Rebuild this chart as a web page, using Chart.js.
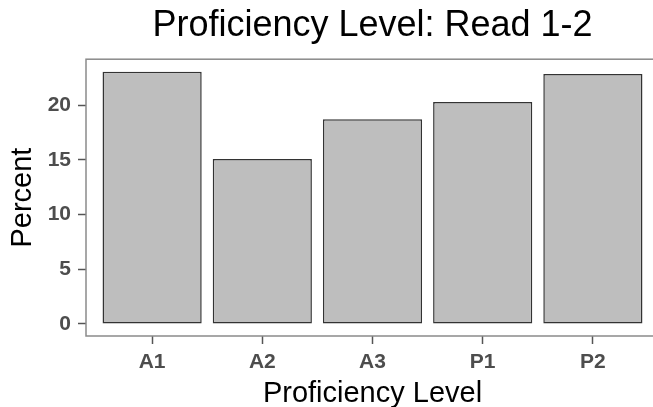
<!DOCTYPE html>
<html>
<head>
<meta charset="utf-8">
<script src="https://cdn.jsdelivr.net/npm/chart.js@4/dist/chart.umd.min.js"></script>
<style>
  html, body { margin: 0; padding: 0; background: #fff; overflow: hidden; }
  #wrap { width: 653px; height: 407px; overflow: hidden; }
</style>
</head>
<body>
<div id="wrap"><canvas id="myChart" width="660" height="407"></canvas></div>
<script>
// data
const categories = ['A1', 'A2', 'A3', 'P1', 'P2'];
const percents = [23.04, 15.07, 18.7, 20.27, 22.83];
const yTicks = [0, 5, 10, 15, 20];

const FONT = "'Liberation Sans', Arial, Helvetica, sans-serif";

// panel border like ggplot
const panelBorder = {
  id: 'panelBorder',
  afterDraw(chart) {
    const a = chart.chartArea;
    const c = chart.ctx;
    c.save();
    c.strokeStyle = '#8a8a8a';
    c.lineWidth = 1.5;
    c.strokeRect(a.left, a.top, a.right - a.left, a.bottom - a.top);
    c.restore();
  }
};

const ctx = document.getElementById('myChart').getContext('2d');
new Chart(ctx, {
  type: 'bar',
  data: {
    datasets: [{
      data: percents.map((v, i) => ({ x: i, y: v })),
      backgroundColor: '#bebebe',
      borderColor: '#333333',
      borderWidth: 1.5,
      borderSkipped: false,
      categoryPercentage: 0.9,
      barPercentage: 1
    }]
  },
  options: {
    responsive: false,
    animation: false,
    layout: { padding: { left: 0, right: 1, top: 0, bottom: 0 } },
    plugins: {
      legend: { display: false },
      tooltip: { enabled: false },
      title: {
        display: true,
        text: 'Proficiency Level: Read 1-2',
        fullSize: false,
        color: '#000',
        font: { family: FONT, size: 36, weight: 'normal' },
        padding: { top: 4, bottom: 12 }
      }
    },
    scales: {
      x: {
        type: 'linear',
        min: -0.6,
        max: 4.6,
        offset: false,
        afterBuildTicks: s => { s.ticks = categories.map((c, i) => ({ value: i })); },
        ticks: {
          callback: v => categories[v],
          color: '#4d4d4d',
          font: { family: FONT, size: 21, weight: 'bold' },
          padding: 6,
          maxRotation: 0,
          autoSkip: false
        },
        grid: { offset: false, drawOnChartArea: false, drawTicks: true, tickLength: 8, color: '#555', tickWidth: 1.5 },
        border: { display: false },
        title: {
          display: true,
          text: 'Proficiency Level',
          color: '#000',
          font: { family: FONT, size: 29, weight: 'normal' },
          padding: { top: 0, bottom: -4 }
        },
        afterFit: s => { s.height = 71; }
      },
      y: {
        min: -1.1,
        max: 24.19,
        afterBuildTicks: s => { s.ticks = yTicks.map(v => ({ value: v })); },
        ticks: {
          color: '#4d4d4d',
          font: { family: FONT, size: 21, weight: 'bold' },
          padding: 7
        },
        grid: { drawOnChartArea: false, drawTicks: true, tickLength: 8, color: '#555', tickWidth: 1.5 },
        border: { display: false },
        title: {
          display: true,
          text: 'Percent',
          color: '#000',
          font: { family: FONT, size: 29, weight: 'normal' },
          padding: { top: 6, bottom: 0 }
        },
        afterFit: s => { s.width = 86; }
      }
    }
  },
  plugins: [panelBorder]
});
</script>
</body>
</html>
